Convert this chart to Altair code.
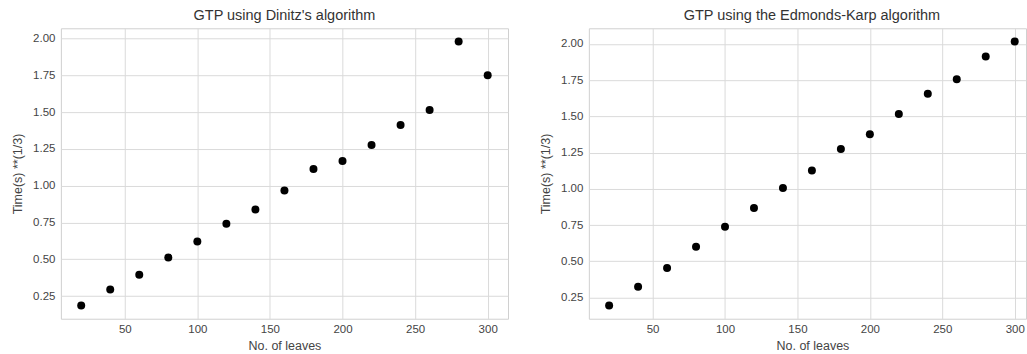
import altair as alt
import pandas as pd

leaves = [20, 40, 60, 80, 100, 120, 140, 160, 180, 200, 220, 240, 260, 280, 300]
dinitz = [0.186, 0.295, 0.395, 0.512, 0.621, 0.741, 0.839, 0.968, 1.113, 1.168,
          1.277, 1.413, 1.515, 1.980, 1.751]
edmonds = [0.195, 0.324, 0.453, 0.600, 0.738, 0.867, 1.005, 1.127, 1.275, 1.376,
           1.516, 1.655, 1.756, 1.912, 2.016]
x_ticks = [50, 100, 150, 200, 250, 300]
y_ticks = [0.25, 0.50, 0.75, 1.00, 1.25, 1.50, 1.75, 2.00]
titles = ["GTP using Dinitz's algorithm", "GTP using the Edmonds-Karp algorithm"]

FONT = "Liberation Sans"


def margin_domain(vals):
    lo, hi = min(vals), max(vals)
    m = 0.05 * (hi - lo)
    return [lo - m, hi + m]


def panel(vals, title, width, x_hi_cut=0.0, title_dx=0):
    df = pd.DataFrame({"leaves": leaves, "t": vals})
    xd = margin_domain(leaves)
    xd = [xd[0], xd[1] - x_hi_cut]
    return alt.Chart(
        df,
        title=alt.Title(title, fontSize=14.5, fontWeight="normal", color="#333333",
                        font=FONT, offset=5, dx=title_dx),
    ).mark_circle(size=64, color="black", opacity=1).encode(
        x=alt.X("leaves:Q",
                scale=alt.Scale(domain=xd, nice=False, zero=False),
                axis=alt.Axis(values=x_ticks, title="No. of leaves", titlePadding=4,
                              titleX=224)),
        y=alt.Y("t:Q",
                scale=alt.Scale(domain=margin_domain(vals), nice=False, zero=False),
                axis=alt.Axis(values=y_ticks, format=".2f", title="Time(s) **(1/3)",
                              titlePadding=8, labelPadding=6)),
    ).properties(width=width, height=291)


# the reference's right panel runs past the image edge; crop it at the edge
chart = alt.hconcat(
    panel(dinitz, titles[0], 448),
    panel(edmonds, titles[1], 438, x_hi_cut=6.2, title_dx=4.5),
    spacing=81, bounds="flush",
).properties(
    padding={"left": 11, "top": 7, "right": 0, "bottom": 0},
    background="white",
).configure_view(
    stroke="#d0d0d0", strokeWidth=1,
).configure_axis(
    grid=True, gridColor="#dadada", gridWidth=1,
    ticks=False, domain=False,
    labelFont=FONT, labelFontSize=11.5, labelColor="#444444", labelPadding=5,
    titleFont=FONT, titleFontSize=12.5, titleColor="#444444", titleFontWeight="normal",
)

chart.save("out.html", embed_options={"renderer": "svg", "actions": False})
